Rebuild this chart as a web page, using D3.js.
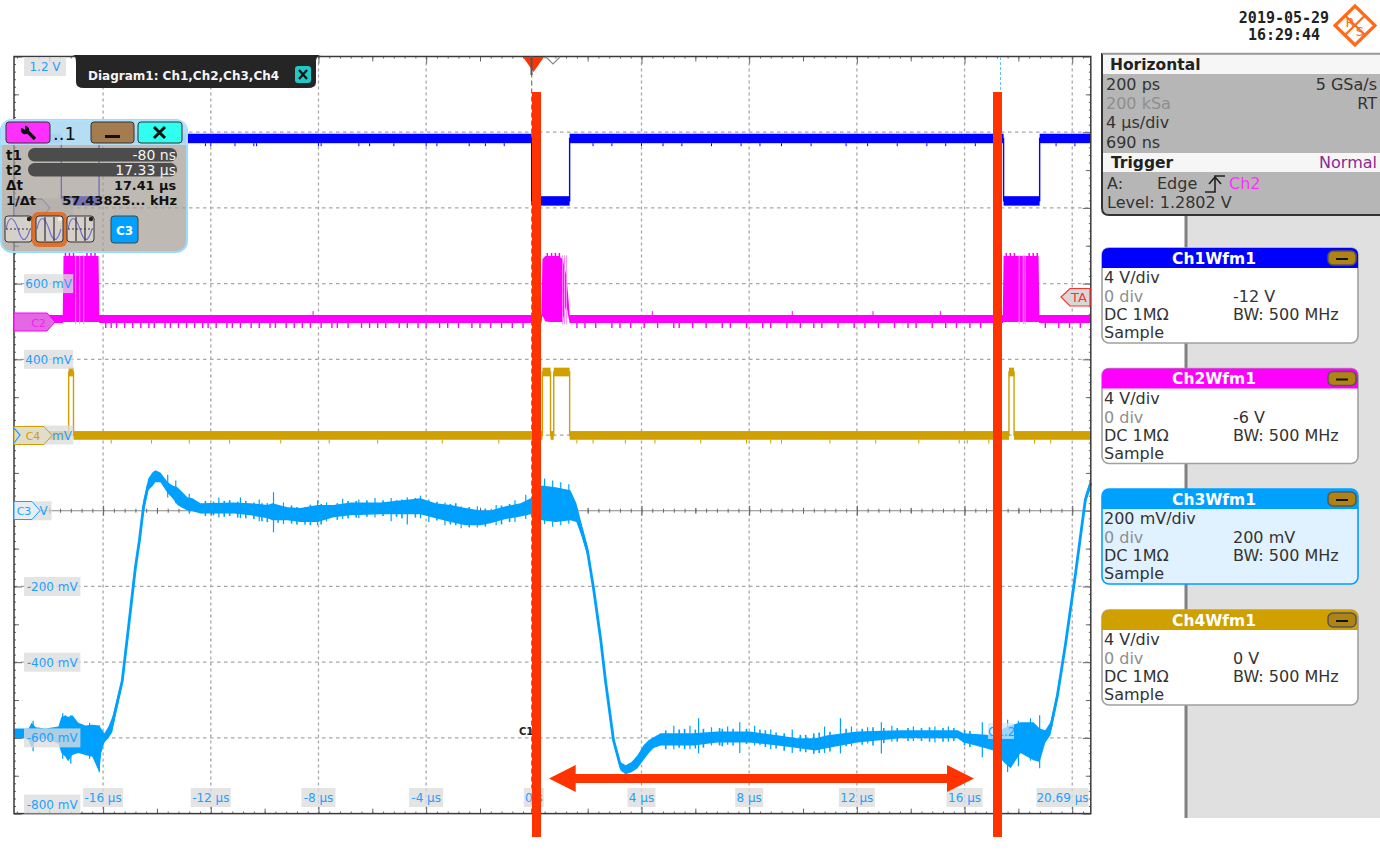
<!DOCTYPE html>
<html>
<head>
<meta charset="utf-8">
<script src="https://cdn.jsdelivr.net/npm/d3@7"></script>
<style>
  html, body { margin: 0; padding: 0; background: #fff; overflow: hidden; }
  svg { display: block; }
  text { font-family: "DejaVu Sans", sans-serif; }
</style>
</head>
<body>
<div id="chart"></div>
<script>
// screen readout
const xTickValues = [-16, -12, -8, -4, 0, 4, 8, 12, 16, 20];
const xTickLabels = ['-16 µs', '-12 µs', '-8 µs', '-4 µs', '0 s', '4 µs', '8 µs', '12 µs', '16 µs', '20.69 µs'];
const yTickValues = [1200, 1000, 800, 600, 400, 200, 0, -200, -400, -600, -800];
const yTickLabels = ['1.2 V', '1 V', '800 mV', '600 mV', '400 mV', '200 mV', '0 V', '-200 mV', '-400 mV', '-600 mV', '-800 mV'];

// Ch1 digital levels, volts. edges in µs
const ch1Edges = [-19.31, -17.55, -16.15, -0.08, 1.33, 17.45, 18.79, 20.69];
const ch1Levels = [3.67, 0.37, 3.67, 0.37, 3.67, 0.37, 3.67];
const ch1Teeth = [-12.2, -12.0, -11.1, -10.4, -10.3, -8.0, -7.9, -6.5, -6.1, -5.2, -4.0, -3.6, -2.4, -1.8, -1.1, 2.2, 2.9, 4.0, 4.8, 5.5, 6.6, 7.7, 8.4, 9.2, 10.3, 11.6, 12.4, 13.5, 14.6, 15.3, 16.4, 19.4, 20.1];

// Ch2 envelope, volts
const ch2Time = [-19.31, -17.5, -17.47, -16.17, -16.14, 0.28, 0.32, 0.43, 0.62, 0.92, 1.07, 1.21, 1.29, 1.33, 17.42, 17.45, 18.75, 18.78, 20.69];
const ch2High = [0.34, 0.34, 3.46, 3.46, 0.34, 0.34, 3.3, 3.46, 3.46, 3.46, 3.3, 2.4, 1.13, 0.34, 0.34, 3.46, 3.46, 0.34, 0.34];
const ch2Low = [-0.08, -0.08, -0.03, -0.03, -0.08, -0.08, 0.3, 0.0, -0.03, -0.03, -0.03, 0.87, 0.2, -0.08, -0.08, -0.03, -0.03, -0.08, -0.08];
const ch2Stripes = [-17.02, -16.87, -16.72, 1.07, 1.14, 1.21, 18.03, 18.18, 18.25];
const ch2BurstTeeth = [-17.4, -17.25, -17.1, -16.6, -16.45, -16.3, 0.5, 0.66, 0.8, 0.95, 17.55, 17.7, 17.85, 18.4, 18.55, 18.7];
const ch2Teeth = [-15.9, -15.7, -15.5, -15.2, -14.9, -14.6, -14.3, -14.1, -13.7, -13.5, -13.2, -12.9, -12.6, -12.3, -12.1, -11.8, -11.4, -11.2, -10.9, -10.5, -10.2, -9.8, -9.6, -9.2, -8.9, -8.6, -8.3, -7.9, -7.5, -7.3, -6.9, -6.4, -6.1, -5.8, -5.5, -5.0, -4.7, -4.3, -4.0, -3.5, -3.2, -2.8, -2.3, -2.0, -1.6, -1.2, -0.8, -0.4, 1.6, 1.9, 2.3, 2.9, 3.2, 3.6, 4.1, 4.6, 5.2, 5.4, 5.9, 6.4, 7.0, 7.3, 7.9, 8.5, 8.8, 9.4, 9.9, 10.4, 10.7, 11.3, 11.9, 12.3, 12.8, 13.4, 13.9, 14.2, 14.8, 15.3, 15.7, 16.2, 16.6, 19.0, 19.5, 19.9, 20.3];
const ch2Stubs = [-8.2, 4.4, 9.6, 12.6, 15.1];

// Ch4 digital levels, volts
const ch4Edges = [-19.31, -17.28, -17.1, 0.32, 0.62, 0.74, 1.33, 17.65, 17.84, 20.69];
const ch4Levels = [-0.02, 3.33, -0.02, 3.33, -0.02, 3.33, -0.02, 3.33, -0.02];
const ch4Teeth = [-15.7, -14.2, -12.8, -11.3, -9.4, -7.6, -5.8, -3.4, -1.3, 1.6, 2.2, 3.4, 4.5, 6.2, 7.9, 8.8, 9.2, 11.0, 12.7, 14.3, 15.8, 16.1, 16.9, 18.6, 19.2];

// Ch3 envelope, mV
const ch3Time = [-19.29, -18.92, -18.77, -18.66, -18.5, -18.14, -17.66, -17.55, -17.4, -17.3, -17.14, -16.92, -16.66, -16.4, -16.14, -16.07, -15.95, -15.8, -15.66, -15.55, -15.29, -15.06, -14.8, -14.65, -14.5, -14.32, -14.17, -14.06, -13.87, -13.6, -13.42, -13.24, -13.05, -12.87, -12.68, -12.38, -11.15, -10.52, -9.89, -9.71, -9.15, -8.67, -8.03, -7.44, -6.81, -5.69, -4.21, -3.65, -3.09, -2.54, -1.98, -1.61, -1.05, -0.49, -0.12, 0.29, 0.81, 1.36, 1.58, 1.76, 1.99, 2.22, 2.48, 2.66, 2.96, 3.22, 3.41, 3.63, 3.85, 4.07, 4.26, 4.45, 4.71, 5.93, 6.82, 8.01, 9.05, 9.79, 10.46, 10.91, 12.02, 13.62, 15.74, 15.96, 16.41, 17.08, 17.45, 17.71, 18.08, 18.56, 18.79, 19.0, 19.19, 19.45, 19.75, 20.12, 20.49, 20.69];
const ch3High = [-575, -575, -575, -560, -572, -575, -570, -545, -540, -545, -540, -560, -567, -565, -567, -575, -588, -570, -545, -515, -440, -300, -142, -70, 28, 85, 101, 107, 101, 75, 67, 62, 49, 36, 33, 20, 22, 20, 15, 20, 9, 7, 15, 15, 22, 22, 33, 20, 15, 7, 1, 1, 12, 20, 33, 67, 62, 54, 20, -30, -92, -197, -329, -440, -598, -664, -672, -664, -646, -620, -606, -598, -588, -588, -583, -583, -593, -601, -601, -593, -583, -580, -580, -588, -590, -593, -575, -567, -559, -559, -575, -580, -559, -475, -342, -157, 41, 86];
const ch3Low = [-601, -601, -606, -625, -606, -601, -615, -640, -650, -662, -645, -640, -645, -650, -691, -640, -612, -600, -585, -545, -460, -320, -158, -86, -7, 54, 65, 75, 75, 46, 33, 15, 7, 1, -1, -7, -7, -12, -20, -25, -25, -30, -30, -17, -12, -9, -9, -20, -30, -38, -38, -33, -22, -15, -9, -25, -30, -25, -30, -65, -118, -215, -347, -456, -614, -686, -696, -691, -680, -659, -641, -627, -620, -620, -612, -612, -620, -627, -633, -627, -612, -601, -601, -612, -620, -633, -664, -680, -640, -659, -664, -612, -593, -501, -363, -178, 20, 60];
const ch3SpikeTime = [-18.6, -17.5, -17.2, -16.5, -16.14, -13.6, -13.3, -12.8, -11.7, -10.9, -10.2, -9.67, -9.3, -8.03, -7.7, -7.1, -6.5, -5.9, -5.3, -4.7, -4.21, -3.9, -3.3, -2.7, -2.1, -1.4, -0.7, -0.3, 0.4, 0.7, 1.0, 1.3, 5.2, 5.8, 6.12, 6.6, 7.2, 7.65, 8.2, 8.8, 9.6, 10.8, 11.39, 11.8, 12.4, 12.91, 13.3, 14.1, 14.9, 15.4, 16.66, 17.3, 17.6, 18.0, 18.45, 18.79];
const ch3SpikeHigh = [-555, -535, -540, -560, -567, 95, 80, 45, 35, 35, 30, 49, 22, 28, 22, 32, 30, 34, 34, 36, 40, 30, 22, 12, 12, 15, 28, 42, 85, 80, 75, 70, -568, -568, -548, -572, -570, -559, -568, -578, -578, -570, -548, -570, -572, -559, -568, -570, -570, -570, -559, -570, -552, -555, -548, -540];
const ch3SpikeLow = [-635, -655, -668, -655, -691, 35, 20, -8, -18, -20, -28, -57, -35, -38, -28, -22, -20, -18, -28, -36, -20, -30, -38, -46, -44, -38, -30, -22, -35, -42, -38, -34, -630, -630, -641, -620, -618, -640, -620, -630, -640, -640, -641, -622, -615, -641, -610, -608, -612, -610, -651, -660, -690, -675, -660, -680];
// small hair on the band
const ch3FineTime = [-12.2, -11.9, -11.5, -11.3, -11.0, -10.7, -10.4, -10.1, -9.9, -9.5, -9.0, -8.8, -8.5, -8.3, -7.9, -7.3, -6.9, -6.6, -6.2, -5.6, -5.1, -4.9, -4.4, -3.6, -3.1, -2.9, -2.4, -1.8, -1.2, -0.9, 4.9, 5.4, 5.6, 6.0, 6.3, 6.9, 7.0, 7.4, 7.9, 8.4, 8.6, 9.0, 9.3, 9.9, 10.1, 10.4, 10.6, 11.0, 11.6, 12.2, 12.6, 13.0, 13.5, 13.9, 14.4, 14.7, 15.2, 15.6, 16.0, 16.2];
const ch3FineHigh = [26, 24, 26, 28, 24, 26, 22, 20, 20, 12, 14, 10, 10, 16, 18, 20, 26, 26, 28, 28, 28, 30, 34, 24, 18, 20, 10, 6, 14, 18, -580, -578, -576, -578, -576, -574, -576, -576, -576, -578, -580, -586, -588, -592, -592, -588, -586, -584, -576, -576, -572, -574, -574, -574, -574, -572, -574, -574, -580, -582];
const ch3FineLow = [-14, -12, -16, -14, -18, -20, -22, -28, -30, -32, -34, -36, -36, -38, -36, -24, -20, -18, -16, -14, -16, -20, -18, -26, -36, -38, -44, -42, -36, -30, -630, -626, -630, -628, -626, -620, -622, -620, -616, -618, -624, -628, -634, -636, -638, -642, -640, -636, -622, -618, -620, -614, -610, -608, -608, -610, -610, -608, -620, -624];

const width = 1380, height = 863;
const plot = { left: 14, right: 1090.8, top: 56.5, bottom: 813.6 };

const x = d3.scaleLinear().domain([-19.31, 20.69]).range([plot.left, plot.right]);
const yGrid = d3.scaleLinear().domain([-800, 1200]).range([plot.bottom, plot.top]);
// every channel has its own V/div and offset, all span 10 div
const yCh1 = d3.scaleLinear().domain([-32, 8]).range([plot.bottom, plot.top]);
const yCh2 = d3.scaleLinear().domain([-26, 14]).range([plot.bottom, plot.top]);
const yCh4 = d3.scaleLinear().domain([-20, 20]).range([plot.bottom, plot.top]);

const BLUE = '#0000ff', MAGENTA = '#ff00ff', CYAN = '#00a0ff', GOLD = '#cfa000', RED = '#ff3300';

const svg = d3.select('#chart').append('svg').attr('width', width).attr('height', height);

// ---- grid
const grid = svg.append('g');
grid.selectAll('.vg').data(xTickValues.filter(d => d !== 0)).enter().append('line')
  .attr('x1', d => x(d)).attr('x2', d => x(d)).attr('y1', plot.top).attr('y2', plot.bottom)
  .attr('stroke', '#a8a8a8').attr('stroke-width', 1.3).attr('stroke-dasharray', '3,3');
grid.selectAll('.hg').data(yTickValues.filter(d => d !== 0 && d !== 1200 && d !== -800)).enter().append('line')
  .attr('x1', plot.left).attr('x2', plot.right).attr('y1', d => yGrid(d)).attr('y2', d => yGrid(d))
  .attr('stroke', '#a8a8a8').attr('stroke-width', 1.3).attr('stroke-dasharray', '3.5,3.5');

// ---- ticks, three lengths per side, plus the centre cross
const xSmall = d3.range(-19.2, 20.69, 0.4), xMid = d3.range(-18, 20.69, 4), ySmall = d3.range(-780, 1200, 20), yMid = d3.range(-700, 1200, 200);
function ticks(axisFn, scale, values, size, tx, ty, color) {
  const g = svg.append('g').attr('transform', `translate(${tx},${ty})`)
    .call(axisFn(scale).tickValues(values).tickSize(size).tickFormat(''));
  g.select('.domain').remove();
  g.selectAll('line').attr('stroke', color || '#666');
}
ticks(d3.axisTop, x, xSmall, 2, 0, plot.bottom);
ticks(d3.axisTop, x, xMid, 5, 0, plot.bottom);
ticks(d3.axisTop, x, xTickValues, 7, 0, plot.bottom);
ticks(d3.axisBottom, x, xSmall, 2, 0, plot.top);
ticks(d3.axisBottom, x, xMid, 5, 0, plot.top);
ticks(d3.axisBottom, x, xTickValues, 7, 0, plot.top);
ticks(d3.axisRight, yGrid, ySmall, 2, plot.left, 0);
ticks(d3.axisRight, yGrid, yMid, 5, plot.left, 0);
ticks(d3.axisRight, yGrid, yTickValues, 8, plot.left, 0);
ticks(d3.axisLeft, yGrid, ySmall, 2, plot.right, 0);
ticks(d3.axisLeft, yGrid, yMid, 5, plot.right, 0);
ticks(d3.axisLeft, yGrid, yTickValues, 8, plot.right, 0);

svg.append('line').attr('x1', plot.left).attr('x2', plot.right).attr('y1', yGrid(0)).attr('y2', yGrid(0)).attr('stroke', '#8a8a8a').attr('stroke-width', 1.2);
ticks(d3.axisBottom, x, xSmall, 2, 0, yGrid(0));
ticks(d3.axisTop, x, xSmall, 2, 0, yGrid(0));
ticks(d3.axisBottom, x, xMid, 3, 0, yGrid(0));
ticks(d3.axisTop, x, xMid, 3, 0, yGrid(0));
ticks(d3.axisBottom, x, xTickValues, 5, 0, yGrid(0));
ticks(d3.axisTop, x, xTickValues, 5, 0, yGrid(0));
svg.append('line').attr('x1', x(-0.08)).attr('x2', x(-0.08)).attr('y1', plot.top).attr('y2', plot.bottom)
  .attr('stroke', '#777').attr('stroke-width', 1.2).attr('stroke-dasharray', '5,3');

// ---- digital channels: level bands + thin edges + noise teeth
function digital(edges, levels, y, color, half, teeth, toothLen) {
  const g = svg.append('g');
  const segs = levels.map((v, i) => ({ a: edges[i], b: edges[i + 1], v }));
  const stepLine = d3.line().x(d => x(d[0])).y(d => y(d[1])).curve(d3.curveStepAfter);
  const pts = levels.map((v, i) => [edges[i], v]).concat([[edges[edges.length - 1], levels[levels.length - 1]]]);
  g.append('path').attr('d', stepLine(pts)).attr('fill', 'none').attr('stroke', color).attr('stroke-width', 1.4);
  g.selectAll('rect').data(segs).enter().append('rect')
    .attr('x', d => x(d.a)).attr('width', d => x(d.b) - x(d.a))
    .attr('y', d => y(d.v + half)).attr('height', d => y(d.v - half) - y(d.v + half))
    .attr('fill', color);
  const levelAt = t => levels[Math.max(0, d3.bisectRight(edges, t) - 1)];
  g.selectAll('.tooth').data(teeth).enter().append('line')
    .attr('x1', d => x(d)).attr('x2', d => x(d))
    .attr('y1', d => y(levelAt(d) - half)).attr('y2', d => y(levelAt(d) - half - toothLen))
    .attr('stroke', color).attr('stroke-width', 1);
  return g;
}
digital(ch1Edges, ch1Levels, yCh1, BLUE, 0.25, ch1Teeth, 0.16);

// Ch2 bursts are an envelope with lighter stripes in them
const ch2Rows = ch2Time.map((t, i) => ({ t, hi: ch2High[i], lo: ch2Low[i] }));
svg.append('path')
  .attr('d', d3.area().x(d => x(d.t)).y0(d => yCh2(d.lo)).y1(d => yCh2(d.hi))(ch2Rows))
  .attr('fill', MAGENTA);
svg.selectAll('.ch2tooth').data(ch2Teeth).enter().append('line')
  .attr('x1', d => x(d)).attr('x2', d => x(d)).attr('y1', yCh2(-0.05)).attr('y2', yCh2(-0.34))
  .attr('stroke', MAGENTA).attr('stroke-width', 1.4);
svg.selectAll('.ch2stub').data(ch2Stubs).enter().append('line')
  .attr('x1', d => x(d)).attr('x2', d => x(d)).attr('y1', yCh2(0.3)).attr('y2', yCh2(0.55))
  .attr('stroke', MAGENTA);
svg.selectAll('.ch2burst').data(ch2BurstTeeth).enter().append('line')
  .attr('x1', d => x(d)).attr('x2', d => x(d)).attr('y1', yCh2(3.4)).attr('y2', yCh2(3.62))
  .attr('stroke', MAGENTA).attr('stroke-width', 1.5);
svg.selectAll('.ch2stripe').data(ch2Stripes).enter().append('line')
  .attr('x1', d => x(d)).attr('x2', d => x(d)).attr('y1', yCh2(3.5)).attr('y2', yCh2(-0.15))
  .attr('stroke', '#ff8cff').attr('stroke-width', 1);

digital(ch4Edges, ch4Levels, yCh4, GOLD, 0.23, ch4Teeth, 0.2);

// Ch3 envelope, midline keeps the steep edges visible, then the noise spikes
const ch3Rows = ch3Time.map((t, i) => ({ t, hi: ch3High[i], lo: ch3Low[i] }));
const ch3 = svg.append('g');
ch3.append('path')
  .attr('d', d3.area().x(d => x(d.t)).y0(d => yGrid(d.lo)).y1(d => yGrid(d.hi))(ch3Rows))
  .attr('fill', CYAN);
ch3.append('path')
  .attr('d', d3.line().x(d => x(d.t)).y(d => yGrid((d.hi + d.lo) / 2))(ch3Rows))
  .attr('fill', 'none').attr('stroke', CYAN).attr('stroke-width', 2.8);
ch3.selectAll('.spike').data(ch3SpikeTime).enter().append('line')
  .attr('x1', d => x(d)).attr('x2', d => x(d))
  .attr('y1', (d, i) => yGrid(ch3SpikeHigh[i])).attr('y2', (d, i) => yGrid(ch3SpikeLow[i]))
  .attr('stroke', CYAN).attr('stroke-width', 1.2);
ch3.selectAll('.fine').data(ch3FineTime).enter().append('line')
  .attr('x1', d => x(d)).attr('x2', d => x(d))
  .attr('y1', (d, i) => yGrid(ch3FineHigh[i])).attr('y2', (d, i) => yGrid(ch3FineLow[i]))
  .attr('stroke', CYAN).attr('stroke-width', 1.6);

// frame
svg.append('rect').attr('x', plot.left).attr('y', plot.top).attr('width', plot.right - plot.left).attr('height', plot.bottom - plot.top)
  .attr('fill', 'none').attr('stroke', '#3a3a3a').attr('stroke-width', 1.5);

// ---- tick labels on translucent grey boxes
function tickLabel(cx, cy, label, w, boxOnly) {
  const g = svg.append('g');
  g.append('rect').attr('x', cx - w / 2).attr('y', cy - 9.5).attr('width', w).attr('height', 19)
    .attr('fill', '#dcdcdc').attr('fill-opacity', 0.78);
  if (boxOnly) return;
  g.append('text').attr('x', cx).attr('y', cy + 4.5).attr('text-anchor', 'middle')
    .attr('font-size', 12).attr('fill', '#1ea0ff').text(label);
}
xTickValues.forEach((d, i) => {
  const w = [40, 40, 34, 34, 20, 28, 28, 36, 36, 52][i];
  tickLabel(d === 20 ? 1062.5 : x(d), 797.5, xTickLabels[i], w);
});
yTickValues.forEach((d, i) => {
  if (d === 1000) return; // under the panel header
  const label = yTickLabels[i];
  const w = 6 + label.length * 7.2;
  const cy = d === 1200 ? 66.5 : d === -800 ? 804 : yGrid(d);
  // 800 mV sits behind the cursor panel, only its box shows through
  tickLabel(24 + w / 2, cy, label, w, d === 800);
});

// ---- channel reference markers
function marker(x0, x1, cy, color, label, fill, textColor, textX) {
  const h = 9;
  const pts = [[x0, cy - h], [x1 - 8, cy - h], [x1, cy], [x1 - 8, cy + h], [x0, cy + h]];
  svg.append('path').attr('d', d3.line()(pts) + 'Z').attr('fill', fill).attr('stroke', color).attr('stroke-width', 1);
  if (label) svg.append('text').attr('x', textX).attr('y', cy + 4.5).attr('text-anchor', 'middle').attr('font-size', 11).attr('fill', textColor || color).text(label);
}
marker(14, 55, 322, MAGENTA, 'C2', '#e468e4', '#ee22ee', 38.5);
marker(14, 52, 435.5, GOLD, 'C4', '#e2dccb', GOLD, 33);
marker(14, 40, 510.5, '#1ea0ff', 'C3', '#e6edf3', '#1ea0ff', 24);
marker(14, 50, 208, '#3a3af0', '', '#d8d8ea');
svg.append('path').attr('d', 'M14,428 L20,435 L14,443').attr('fill', 'none').attr('stroke', '#1ea0ff').attr('stroke-width', 1.2);

// TA marker
svg.append('path').attr('d', 'M1090,288.5 L1070,288.5 L1061,297 L1070,306 L1090,306 Z').attr('fill', '#d8d8d8').attr('stroke', '#ff3030').attr('stroke-width', 1.2);
svg.append('text').attr('x', 1079).attr('y', 302).attr('text-anchor', 'middle').attr('font-size', 13).attr('fill', '#ff3030').text('TA');

// cursors
svg.append('line').attr('x1', 1000.5).attr('x2', 1000.5).attr('y1', 57).attr('y2', 92).attr('stroke', '#62c0ff').attr('stroke-dasharray', '3,2');
svg.append('text').attr('x', 519).attr('y', 735).attr('font-size', 10).attr('font-weight', 'bold').attr('fill', '#222').text('C1');
svg.append('rect').attr('x', 988).attr('y', 723).attr('width', 26).attr('height', 16).attr('fill', '#cce8ff').attr('fill-opacity', 0.75);
svg.append('text').attr('x', 988).attr('y', 736).attr('font-size', 12).attr('fill', '#1ea0ff').text('C1.2');

// trigger markers
svg.append('path').attr('d', 'M523,57 L544,57 L533.5,72 Z').attr('fill', RED);
svg.append('line').attr('x1', 531.5).attr('x2', 531.5).attr('y1', 56).attr('y2', 75).attr('stroke', '#555').attr('stroke-width', 2);
svg.append('path').attr('d', 'M546,57 L553,64 L560,57').attr('fill', 'none').attr('stroke', '#888').attr('stroke-width', 1.2);

// ---- dark diagram tab
svg.append('path').attr('d', 'M72,55 C76,55 76,60 76,64 L76,82 Q76,88 84,88 L308,88 Q316,88 316,82 L316,62 C316,58 318,55 321,55 Z').attr('fill', '#252525');
svg.append('text').attr('x', 88).attr('y', 80).attr('font-size', 12).attr('font-weight', 'bold').attr('fill', '#f4f4f4').text('Diagram1: Ch1,Ch2,Ch3,Ch4');
svg.append('rect').attr('x', 295).attr('y', 66).attr('width', 16).attr('height', 17).attr('rx', 3).attr('fill', '#20c8c8');
svg.append('path').attr('d', 'M299,70 L307,79 M307,70 L299,79').attr('stroke', '#111').attr('stroke-width', 2.2);

// ---- cursor panel
const panel = svg.append('g');
panel.append('rect').attr('x', 1).attr('y', 120).attr('width', 186).attr('height', 132).attr('rx', 11)
  .attr('fill', 'rgb(165,160,150)').attr('fill-opacity', 0.72).attr('stroke', '#9cdcff').attr('stroke-width', 2);
panel.append('path').attr('d', 'M1,145 L1,131 Q1,120 12,120 L176,120 Q187,120 187,131 L187,145 Z').attr('fill', '#b4e4ff').attr('fill-opacity', 0.85);
function button(bx, w, fill) {
  panel.append('rect').attr('x', bx).attr('y', 122).attr('width', w).attr('height', 21).attr('rx', 3).attr('fill', fill).attr('stroke', '#333').attr('stroke-width', 1);
}
button(6, 44, '#ff30ff');
button(91, 43, '#a47c50');
button(138, 44, '#30fff0');
// wrench
panel.append('line').attr('x1', 27).attr('y1', 131).attr('x2', 35).attr('y2', 139).attr('stroke', '#111').attr('stroke-width', 3.4);
panel.append('circle').attr('cx', 25).attr('cy', 130).attr('r', 4.2).attr('fill', '#111');
panel.append('path').attr('d', 'M19,126 L25,130 L25,125 Z').attr('fill', '#ff30ff');
panel.append('text').attr('x', 53).attr('y', 140).attr('font-size', 18).attr('fill', '#111').text('..1');
panel.append('rect').attr('x', 105).attr('y', 135).attr('width', 15).attr('height', 3).attr('fill', '#111');
panel.append('path').attr('d', 'M154,127 L165,138 M165,127 L154,138').attr('stroke', '#111').attr('stroke-width', 3);
[[155, 't1', '-80 ns', true], [170, 't2', '17.33 µs', true], [185, 'Δt', '17.41 µs', false]].forEach(r => {
  if (r[3]) panel.append('rect').attr('x', 28).attr('y', r[0] - 7).attr('width', 149).attr('height', 13.5).attr('rx', 6.5).attr('fill', '#4c4c4c');
  panel.append('text').attr('x', 6).attr('y', r[0] + 4.5).attr('font-size', 13.5).attr('font-weight', 'bold').attr('fill', '#111').text(r[1]);
  panel.append('text').attr('x', 176).attr('y', r[0] + 5).attr('text-anchor', 'end').attr('font-weight', r[3] ? 'normal' : 'bold').attr('font-size', r[3] ? 14 : 12.8).attr('fill', r[3] ? '#f4f4f4' : '#111').text(r[2]);
});
panel.append('text').attr('x', 6).attr('y', 204.5).attr('font-size', 13).attr('font-weight', 'bold').attr('fill', '#111').text('1/Δt');
panel.append('text').attr('x', 177).attr('y', 204.5).attr('text-anchor', 'end').attr('font-size', 13).attr('font-weight', 'bold').attr('fill', '#111').text('57.43825... kHz');

// the three small cursor style buttons: wave, with horizontal and / or vertical cursors
const waveIcon = 'c3,-14 7,-14 12,0 c4,14 8,14 12,0';
[[5, false, true, false], [36, true, false, true], [67, false, true, true]].forEach(b => {
  if (b[1]) panel.append('rect').attr('x', b[0] - 4).attr('y', 212).attr('width', 35).attr('height', 35).attr('rx', 6).attr('fill', '#e0661a').attr('fill-opacity', 0.85);
  panel.append('rect').attr('x', b[0]).attr('y', 216).attr('width', 27).attr('height', 26).attr('rx', 3).attr('fill', '#d6d0ca').attr('stroke', '#333');
  panel.append('path').attr('d', `M${b[0] + 1},229 ${waveIcon}`).attr('fill', 'none').attr('stroke', '#6f6fd0').attr('stroke-width', 1.2);
  if (b[2]) panel.append('line').attr('x1', b[0] + 1).attr('x2', b[0] + 26).attr('y1', 229).attr('y2', 229).attr('stroke', '#333').attr('stroke-dasharray', '2,2');
  if (b[3]) panel.append('path').attr('d', `M${b[0] + 9},217 L${b[0] + 9},241 M${b[0] + 18},217 L${b[0] + 18},241`).attr('stroke', '#333').attr('stroke-width', 1.2);
  panel.append('circle').attr('cx', b[0] + 24).attr('cy', 219).attr('r', 2.2).attr('fill', b[1] ? '#eee' : '#222');
});
panel.append('rect').attr('x', 111).attr('y', 216).attr('width', 27).attr('height', 27).attr('rx', 3).attr('fill', '#00a0ff').attr('stroke', '#444');
panel.append('text').attr('x', 124.5).attr('y', 234.5).attr('text-anchor', 'middle').attr('font-size', 12).attr('font-weight', 'bold').attr('fill', '#fff').text('C3');

// ---- red annotations
[532, 993].forEach(bx => {
  svg.append('rect').attr('x', bx).attr('y', 92).attr('width', 9).attr('height', 745).attr('fill', RED);
});
svg.append('path')
  .attr('d', 'M549,778.5 L575.7,765 L575.7,774 L947,774 L947,765 L974,778.5 L947,792 L947,783 L575.7,783 L575.7,792 Z')
  .attr('fill', RED);

// ---- date + logo
svg.append('text').attr('x', 1284).attr('y', 23).attr('text-anchor', 'middle').style('font-family', '"DejaVu Sans Mono", monospace').attr('font-size', 15).attr('font-weight', 'bold').attr('fill', '#222').text('2019-05-29');
svg.append('text').attr('x', 1284).attr('y', 40).attr('text-anchor', 'middle').style('font-family', '"DejaVu Sans Mono", monospace').attr('font-size', 15).attr('font-weight', 'bold').attr('fill', '#222').text('16:29:44');
const logo = svg.append('g').attr('fill', 'none').attr('stroke', '#ff6a1a');
logo.append('path').attr('d', 'M1355,6 L1375,25.5 L1355,45 L1335,25.5 Z').attr('stroke-width', 3.2);
logo.append('path').attr('d', 'M1345,35 L1365,15.5').attr('stroke-width', 2.2);
logo.append('path').attr('d', 'M1345,15.5 L1365,35').attr('stroke-width', 2.2);
svg.append('text').attr('x', 1350).attr('y', 27).attr('text-anchor', 'middle').attr('font-size', 13).attr('fill', '#ff6a1a').text('R');
svg.append('text').attr('x', 1360).attr('y', 36).attr('text-anchor', 'middle').attr('font-size', 13).attr('fill', '#ff6a1a').text('S');

// ---- right hand side
svg.append('rect').attr('x', 1187).attr('y', 216).attr('width', 193).attr('height', 602).attr('fill', '#e0e0e0');
svg.append('rect').attr('x', 1184.5).attr('y', 216).attr('width', 3).attr('height', 602).attr('fill', '#808080');

const TXT = '#333', FS = 16;
function t(tx, ty, s, opts) {
  const o = opts || {};
  return svg.append('text').attr('x', tx).attr('y', ty).attr('font-size', o.size || FS)
    .attr('fill', o.fill || TXT).attr('text-anchor', o.anchor || 'start').attr('font-weight', o.weight || 'normal').text(s);
}
svg.append('path').attr('d', 'M1102,54 L1380,54 L1380,215 L1109,215 Q1102,215 1102,208 Z').attr('fill', '#b6b6b6');
svg.append('rect').attr('x', 1102).attr('y', 55).attr('width', 278).attr('height', 19).attr('fill', '#f6f6f6');
svg.append('rect').attr('x', 1102).attr('y', 153).attr('width', 278).attr('height', 19).attr('fill', '#f6f6f6');
svg.append('path').attr('d', 'M1102,53 L1102,208 Q1102,215 1109,215 L1380,215').attr('fill', 'none').attr('stroke', '#333').attr('stroke-width', 2);
svg.append('line').attr('x1', 1102).attr('x2', 1380).attr('y1', 53.5).attr('y2', 53.5).attr('stroke', '#9a9a9a').attr('stroke-width', 1.5);

t(1110, 70, 'Horizontal', { weight: 'bold', size: 15.5, fill: '#222' });
t(1106, 90, '200 ps');
t(1106, 109, '200 kSa', { fill: '#8e8e8e' });
t(1106, 128, '4 µs/div');
t(1106, 148, '690 ns');
t(1377, 90, '5 GSa/s', { anchor: 'end' });
t(1377, 109, 'RT', { anchor: 'end' });
t(1111, 168, 'Trigger', { weight: 'bold', size: 15.5, fill: '#222' });
t(1377, 168, 'Normal', { anchor: 'end', fill: '#8a2a90' });
t(1107, 189, 'A:');
t(1157, 189, 'Edge');
svg.append('path').attr('d', 'M1205,192 L1215,192 L1215,176 L1225,176 M1209,184 L1215,177 L1221,184').attr('fill', 'none').attr('stroke', '#222').attr('stroke-width', 1.6);
t(1229, 189, 'Ch2', { fill: '#ff30ff' });
t(1107, 208, 'Level: 1.2802 V');

// channel info boxes
const chNames = ['Ch1Wfm1', 'Ch2Wfm1', 'Ch3Wfm1', 'Ch4Wfm1'];
const chColors = [BLUE, MAGENTA, CYAN, GOLD];
const chScale = ['4 V/div', '4 V/div', '200 mV/div', '4 V/div'];
const chOffset = ['-12 V', '-6 V', '200 mV', '0 V'];
const chTop = [248, 368.5, 489, 610];
chNames.forEach((name, i) => {
  const top = chTop[i], active = i === 2;
  svg.append('rect').attr('x', 1102).attr('y', top).attr('width', 256).attr('height', 95).attr('rx', 7)
    .attr('fill', active ? '#e0f2ff' : '#fff').attr('stroke', active ? CYAN : '#a0a0a0').attr('stroke-width', 1.6);
  svg.append('path').attr('d', `M1102,${top + 20} L1102,${top + 7} Q1102,${top} 1109,${top} L1351,${top} Q1358,${top} 1358,${top + 7} L1358,${top + 20} Z`).attr('fill', chColors[i]);
  t(1214, top + 15.5, name, { anchor: 'middle', weight: 'bold', size: 15.5, fill: '#fff' });
  svg.append('rect').attr('x', 1328).attr('y', top + 3).attr('width', 28).attr('height', 14).attr('rx', 5).attr('fill', '#b08414').attr('stroke', '#555').attr('stroke-width', 1.5);
  svg.append('rect').attr('x', 1336).attr('y', top + 10).attr('width', 12).attr('height', 2).attr('fill', '#111');
  t(1104, top + 35, chScale[i]);
  t(1104, top + 54, '0 div', { fill: '#8e8e8e' });
  t(1233, top + 54, chOffset[i]);
  t(1104, top + 72, 'DC 1MΩ');
  t(1233, top + 72, 'BW: 500 MHz');
  t(1104, top + 90, 'Sample');
});
</script>
</body>
</html>
